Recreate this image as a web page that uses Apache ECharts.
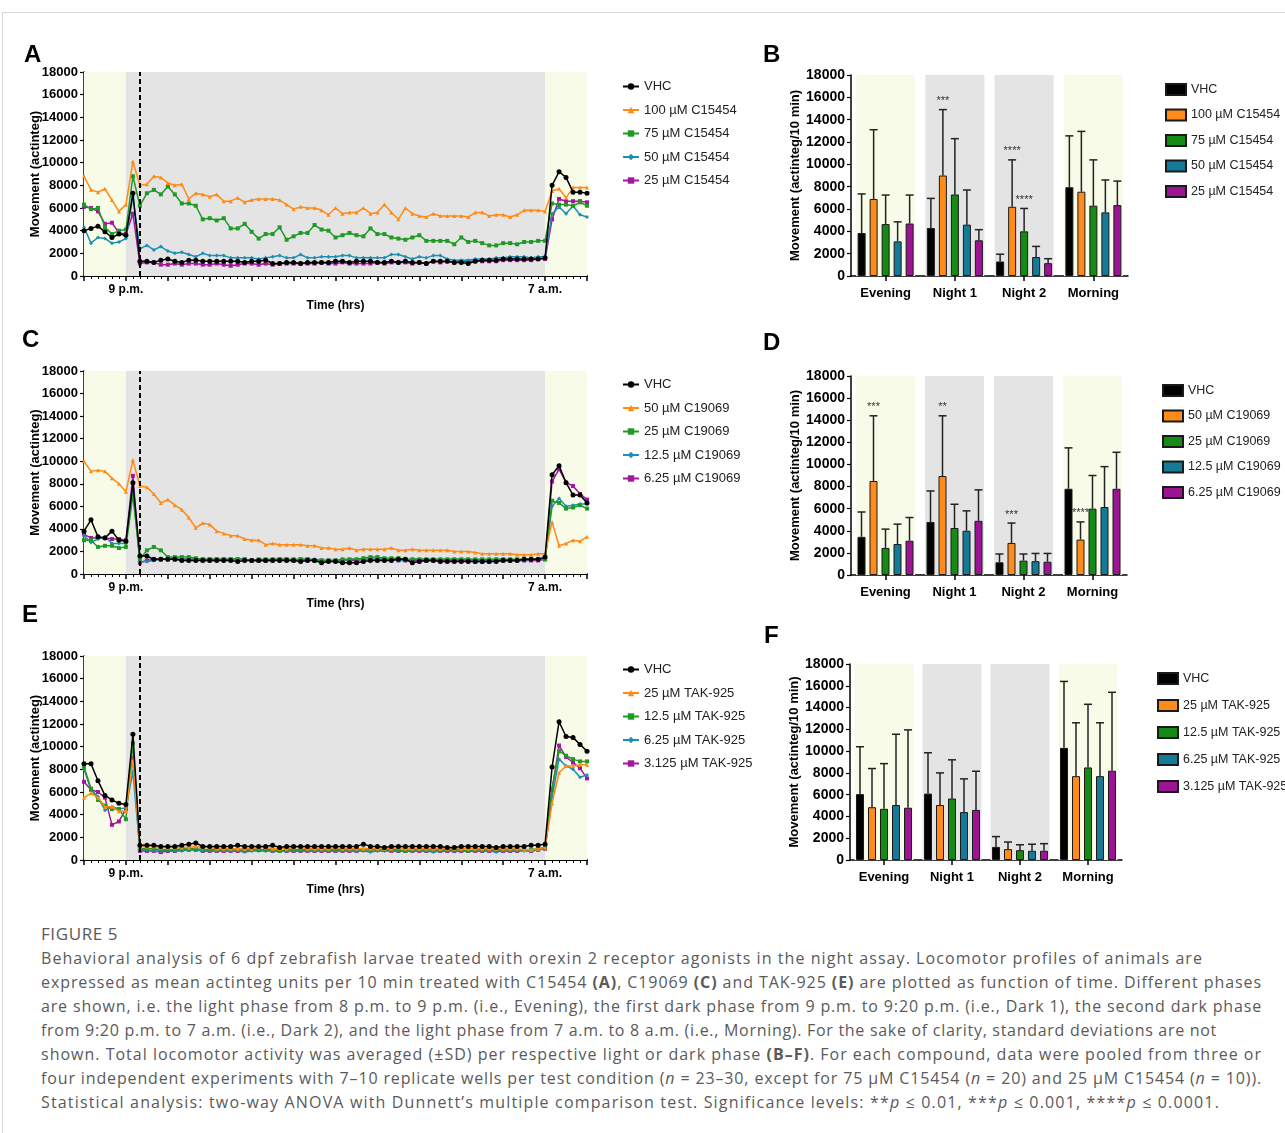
<!DOCTYPE html>
<html><head><meta charset="utf-8">
<script src="https://cdn.jsdelivr.net/npm/echarts@6/dist/echarts.min.js"></script>
<style>
html,body{margin:0;padding:0;background:#fff;width:1285px;height:1133px;overflow:hidden;}
#frame{position:absolute;left:2px;top:12px;width:1283px;height:1121px;border-top:1px solid #d6d6d6;border-left:1px solid #d6d6d6;}
#chart{position:absolute;left:0;top:0;width:1285px;height:910px;}
#caption{position:absolute;left:41px;top:922px;font-family:'Open Sans','Noto Sans',sans-serif;color:#5a5a5a;}
.cap-title{font-size:17px;line-height:24px;letter-spacing:0.6px;white-space:nowrap;}
.cap-line{font-size:16px;line-height:24px;white-space:nowrap;display:block;width:max-content;}
</style></head>
<body>
<div id="frame"></div>
<div id="chart"></div>
<div id="caption">
<div class="cap-title">FIGURE 5</div>
<span class="cap-line">Behavioral analysis of 6 dpf zebrafish larvae treated with orexin 2 receptor agonists in the night assay. Locomotor profiles of animals are</span>
<span class="cap-line">expressed as mean actinteg units per 10 min treated with C15454 <b>(A)</b>, C19069 <b>(C)</b> and TAK-925 <b>(E)</b> are plotted as function of time. Different phases</span>
<span class="cap-line">are shown, i.e. the light phase from 8 p.m. to 9 p.m. (i.e., Evening), the first dark phase from 9 p.m. to 9:20 p.m. (i.e., Dark 1), the second dark phase</span>
<span class="cap-line">from 9:20 p.m. to 7 a.m. (i.e., Dark 2), and the light phase from 7 a.m. to 8 a.m. (i.e., Morning). For the sake of clarity, standard deviations are not</span>
<span class="cap-line">shown. Total locomotor activity was averaged (±SD) per respective light or dark phase <b>(B–F)</b>. For each compound, data were pooled from three or</span>
<span class="cap-line">four independent experiments with 7–10 replicate wells per test condition (<i>n</i> = 23–30, except for 75 μM C15454 (<i>n</i> = 20) and 25 μM C15454 (<i>n</i> = 10)).</span>
<span class="cap-line">Statistical analysis: two-way ANOVA with Dunnett’s multiple comparison test. Significance levels: **<i>p</i> ≤ 0.01, ***<i>p</i> ≤ 0.001, ****<i>p</i> ≤ 0.0001.</span>
</div>
<script>
// ---------------- DATA ----------------
// time axis in 10-min bins from 8 p.m. (0) to 8 a.m. (72)
const timeTickLabels = [[6, '9 p.m.'], [66, '7 a.m.']];
const phaseEdges = [0, 6, 8, 66, 72]; // 8 pm, 9 pm, 9:20 pm, 7 am, 8 am
const phases = ['Evening', 'Night 1', 'Night 2', 'Morning'];
const phaseLight = [true, false, false, true];

const namesA = ['VHC', '100 µM C15454', '75 µM C15454', '50 µM C15454', '25 µM C15454'];
const namesC = ['VHC', '50 µM C19069', '25 µM C19069', '12.5 µM C19069', '6.25 µM C19069'];
const namesE = ['VHC', '25 µM TAK-925', '12.5 µM TAK-925', '6.25 µM TAK-925', '3.125 µM TAK-925'];

// Panel A (C15454)
const A_vhc = [4000,4200,4400,3900,3400,3700,3600,7300,1300,1300,
  1200,1400,1500,1300,1200,1400,1400,1300,1300,1300,
  1300,1300,1300,1200,1300,1300,1400,1100,1100,1200,
  1200,1100,1200,1200,1200,1200,1300,1300,1200,1300,
  1300,1300,1200,1200,1300,1200,1300,1200,1200,1100,
  1300,1300,1300,1200,1200,1100,1300,1400,1400,1400,
  1500,1500,1500,1500,1500,1500,1600,8000,9200,8700,
  7400,7400,7300];
const A_100 = [8800,7600,7400,7700,6700,5700,6300,10100,8000,8100,
  8800,8700,8200,8000,8100,6800,7300,7200,7000,7200,
  6600,6600,6900,6500,6700,6800,6800,6800,6700,6300,
  5900,6100,6000,6000,5800,5400,6000,5500,5600,5600,
  6000,5500,5600,6300,5600,5000,6000,5500,5300,5200,
  5500,5300,5300,5300,5300,5200,5600,5600,5300,5400,
  5400,5200,5400,5800,5800,5800,5700,7500,7700,6900,
  7800,7800,7800];
const A_75 = [6300,5900,6000,4300,3700,4000,4100,8800,6200,7300,
  7600,7200,7900,7200,6400,6400,6200,5000,5100,4900,
  5100,4200,4200,4600,3900,3300,3700,3700,4300,3200,
  3500,3800,3800,4500,4100,4000,3400,3600,3800,3600,
  3500,4200,3700,3700,3400,3300,3200,3400,3600,3100,
  3100,3100,3100,2800,3400,3000,3100,2900,2700,2700,
  2900,2900,2800,3000,3000,3100,3100,6400,6300,6300,
  6200,6500,6200];
const A_50 = [4300,2900,3400,3300,2900,3000,3300,7000,2400,2700,
  2300,2600,2200,2000,2100,1900,1700,2000,1800,1800,
  1800,1600,1600,1600,1600,1500,1600,1700,1800,1600,
  1600,1900,1600,1600,1700,1700,1700,1800,1800,1600,
  1600,1600,1600,1600,1900,1900,1700,1500,1700,1600,
  1800,1800,1500,1400,1400,1400,1500,1500,1500,1600,
  1600,1700,1700,1700,1600,1700,1700,5500,6100,5500,
  6200,5400,5200];
const A_25 = [6100,6000,5700,4600,4700,3800,3700,5500,1100,1200,
  1200,1000,1000,1100,1000,1100,1100,1000,1000,1100,
  1000,900,1000,1100,1100,1000,1100,1000,1100,1100,
  1100,1100,1100,1100,1200,1100,1100,1200,1100,1100,
  1100,1100,1200,1100,1200,1200,1200,1100,1200,1100,
  1300,1200,1300,1200,1300,1300,1300,1300,1300,1300,
  1400,1400,1400,1400,1400,1500,1500,5000,6800,6600,
  6600,6600,6500];

// Panel C (C19069)
const C_vhc = [3800,4800,3300,3200,3800,3000,2900,8100,1600,1600,
  1300,1300,1300,1300,1200,1200,1200,1200,1200,1200,
  1200,1200,1100,1200,1200,1200,1200,1200,1200,1200,
  1200,1100,1200,1200,1000,1100,1100,1000,1000,1000,
  1100,1200,1200,1200,1200,1300,1300,1000,1100,1200,
  1200,1100,1100,1100,1100,1100,1100,1100,1100,1100,
  1200,1200,1200,1300,1300,1300,1500,8800,9600,8100,
  7000,7000,6300];
const C_50 = [10000,9100,9200,9100,8500,8000,7300,10100,7800,7700,
  7100,6300,6600,6100,5700,5000,4100,4500,4400,3800,
  3600,3400,3400,3100,3000,3000,2600,2700,2600,2600,
  2600,2600,2500,2500,2300,2300,2200,2200,2300,2100,
  2200,2200,2200,2200,2300,2100,2100,2200,2100,2100,
  2100,2100,2100,2000,2000,2000,1900,1800,1800,1800,
  1800,1800,1700,1700,1700,1800,1800,4600,2500,2700,
  3000,2900,3300];
const C_25 = [3000,3000,2400,2500,2500,2300,2400,7000,1300,2100,
  2400,2100,1500,1500,1500,1500,1400,1300,1300,1300,
  1300,1300,1300,1300,1200,1300,1300,1300,1300,1300,
  1300,1300,1300,1200,1200,1200,1200,1300,1300,1300,
  1400,1500,1500,1400,1400,1400,1300,1300,1300,1300,
  1300,1300,1300,1300,1300,1300,1300,1300,1300,1300,
  1300,1300,1300,1300,1300,1300,1300,6500,6300,5800,
  5900,6100,5800];
const C_12 = [3400,2800,3100,3300,2700,2700,2700,7500,1100,1100,
  1200,1300,1300,1400,1300,1300,1300,1200,1200,1200,
  1300,1300,1300,1300,1200,1200,1200,1300,1300,1200,
  1200,1200,1300,1300,1200,1200,1200,1200,1300,1300,
  1300,1300,1300,1300,1300,1200,1200,1300,1300,1300,
  1300,1300,1300,1300,1300,1300,1200,1200,1200,1300,
  1300,1200,1200,1200,1300,1300,1300,6000,6700,6000,
  6100,6200,6200];
const C_6 = [3500,3200,3200,3200,3100,3100,3000,8700,1000,1200,
  1300,1300,1300,1300,1300,1300,1300,1300,1300,1300,
  1300,1300,1300,1300,1200,1200,1200,1200,1300,1300,
  1200,1300,1300,1200,1200,1200,1200,1200,1200,1200,
  1300,1300,1300,1300,1300,1200,1200,1200,1200,1200,
  1200,1200,1200,1200,1200,1200,1100,1100,1100,1200,
  1200,1200,1200,1200,1200,1200,1300,8200,9300,8100,
  7800,7100,6600];

// Panel E (TAK-925)
const E_vhc = [8500,8500,7000,5700,5300,5000,4900,11100,1300,1300,
  1300,1200,1200,1200,1300,1400,1500,1200,1200,1200,
  1200,1200,1300,1200,1200,1200,1200,1300,1100,1200,
  1200,1200,1200,1200,1200,1200,1200,1200,1200,1200,
  1400,1200,1200,1100,1200,1200,1200,1200,1200,1200,
  1200,1200,1100,1100,1200,1200,1200,1200,1200,1100,
  1200,1200,1200,1200,1300,1300,1400,8200,12200,10900,
  10800,10200,9600];
const E_25 = [5500,5900,5500,4700,4700,4300,4300,8800,1200,1200,
  1200,1100,1100,1100,1100,1100,1200,1100,1100,1000,
  1000,1000,1000,1000,1000,1100,1100,1000,1000,1000,
  1100,1100,1000,1000,1000,1000,1100,1000,1000,1000,
  1000,1000,1000,1000,1000,1100,1000,1000,1000,1000,
  1000,1000,1000,1000,1000,1000,1000,1000,1000,1000,
  1000,1000,1000,900,900,1000,1100,5000,7700,8300,
  8300,8400,8400];
const E_12 = [8200,6300,5300,4800,4500,4500,3600,10300,1000,1000,
  1000,900,900,900,1000,1000,1000,900,900,900,
  900,900,900,900,900,900,900,900,800,900,
  900,900,900,900,900,900,900,900,900,900,
  900,900,900,900,900,900,800,900,900,900,
  900,900,900,900,900,800,900,900,900,900,
  900,900,900,900,900,1000,1100,6300,9600,9200,
  8900,8700,8700];
const E_6 = [8000,6200,5600,4400,4700,4500,4600,7800,900,900,
  800,800,900,800,800,900,900,800,800,800,
  800,800,800,700,800,800,800,800,800,800,
  800,800,800,800,800,800,800,800,800,800,
  800,700,800,800,800,800,800,800,800,800,
  700,800,800,800,800,800,800,800,800,700,
  800,800,800,800,800,900,1000,5500,8900,8300,
  8000,7300,7500];
const E_3 = [6900,6200,6000,5500,3100,3400,4500,9000,800,800,
  800,700,800,800,900,900,900,800,800,800,
  800,800,800,800,900,900,900,800,800,800,
  800,800,800,800,800,800,800,800,800,800,
  900,900,900,900,800,800,800,800,800,800,
  800,800,800,800,800,800,800,800,800,800,
  800,800,800,900,800,900,1000,6200,10100,9100,
  8600,8100,7200];

// Panel B (C15454) means and upper SD ends
const B_vhc_mean = [3850, 4300, 1300, 7950], B_vhc_upper = [7350, 6950, 1950, 12550];
const B_100_mean = [6900, 9000, 6200, 7550], B_100_upper = [13100, 14900, 10400, 12950];
const B_75_mean = [4650, 7300, 4000, 6300], B_75_upper = [7250, 12300, 6050, 10400];
const B_50_mean = [3100, 4600, 1700, 5700], B_50_upper = [4850, 7700, 2650, 8600];
const B_25_mean = [4700, 3200, 1150, 6350], B_25_upper = [7250, 4150, 1550, 8500];
const B_100_sig = ['', '***', '****', ''], B_75_sig = ['', '', '****', ''];

// Panel D (C19069)
const D_vhc_mean = [3450, 4800, 1150, 7800], D_vhc_upper = [5700, 7600, 1900, 11500];
const D_50_mean = [8500, 8950, 2900, 3200], D_50_upper = [14400, 14400, 4700, 4800];
const D_25_mean = [2450, 4250, 1300, 6000], D_25_upper = [4150, 6400, 1900, 9000];
const D_12_mean = [2800, 4000, 1250, 6150], D_12_upper = [4600, 5800, 1950, 9800];
const D_6_mean = [3100, 4900, 1200, 7800], D_6_upper = [5200, 7700, 1950, 11100];
const D_50_sig = ['***', '**', '***', '****'];

// Panel F (TAK-925)
const F_vhc_mean = [6050, 6100, 1200, 10300], F_vhc_upper = [10400, 9850, 2150, 16400];
const F_25_mean = [4850, 5050, 1000, 7700], F_25_upper = [8400, 8000, 1650, 12600];
const F_12_mean = [4700, 5650, 900, 8500], F_12_upper = [8850, 9200, 1400, 14300];
const F_6_mean = [5050, 4400, 850, 7700], F_6_upper = [11550, 7450, 1450, 12600];
const F_3_mean = [4800, 4600, 850, 8200], F_3_upper = [11950, 8150, 1500, 15400];

const noSig = ['', '', '', ''];

// ---------------- STYLE ----------------
const FONT = "'Liberation Sans', Arial, sans-serif";
const lineColors = ['#000000', '#ff8a14', '#1f9a26', '#1c8fb2', '#a3179e'];
const barColors = ['#000000', '#ff8c1a', '#158a15', '#147a98', '#9b1493'];
const lineSymbols = ['circle', 'triangle', 'rect', 'diamond', 'rect'];
const LIGHT = '#f8fbe7', DARK = '#e4e4e4';

const option = {
  animation: false,
  textStyle: { fontFamily: FONT },
  grid: [], xAxis: [], yAxis: [], series: [], legend: [], graphic: []
};
const sep = '::';
const strip = n => n.split(sep)[1];
const plain = v => String(v);

function addLinePanel(prefix, box, names, seriesData, legendBox) {
  const gi = option.grid.length;
  option.grid.push({ left: box.left, top: box.top, width: box.width, height: box.height, outerBoundsMode: 'none', containLabel: false });
  option.xAxis.push({
    gridIndex: gi, type: 'value', min: phaseEdges[0], max: phaseEdges[4], interval: 6,
    axisLine: { show: true, onZero: false, lineStyle: { color: '#000', width: 2 } },
    axisTick: { show: true, length: 5, lineStyle: { color: '#000', width: 1.5 } },
    minorTick: { show: true, splitNumber: 6, length: 3, lineStyle: { color: '#000', width: 1 } },
    splitLine: { show: false }, minorSplitLine: { show: false },
    axisLabel: {
      margin: 8, color: '#000', fontWeight: 'bold', fontSize: 12, fontFamily: FONT,
      formatter: v => { const t = timeTickLabels.find(d => d[0] === v); return t ? t[1] : ''; }
    },
    name: 'Time (hrs)', nameLocation: 'middle', nameGap: 24, nameMoveOverlap: false,
    nameTextStyle: { color: '#000', fontWeight: 'bold', fontSize: 12, fontFamily: FONT }
  });
  option.yAxis.push({
    gridIndex: gi, type: 'value', min: 0, max: 18000, interval: 2000,
    axisLine: { show: true, lineStyle: { color: '#000', width: 1.5 } },
    axisTick: { show: true, length: 4, lineStyle: { color: '#000', width: 1.2 } },
    splitLine: { show: false },
    axisLabel: { margin: 6, color: '#000', fontWeight: 'bold', fontSize: 13, fontFamily: FONT, formatter: plain },
    name: 'Movement (actinteg)', nameLocation: 'middle', nameGap: 42, nameMoveOverlap: false,
    nameTextStyle: { color: '#000', fontWeight: 'bold', fontSize: 13, fontFamily: FONT }
  });
  const keys = names.map(n => prefix + sep + n);
  const order = [4, 3, 2, 1, 0];
  order.forEach(k => {
    const s = {
      type: 'line', name: keys[k], xAxisIndex: gi, yAxisIndex: gi,
      data: seriesData[k].map((v, i) => [i, v]),
      symbol: lineSymbols[k], symbolSize: k === 0 ? 5 : 4, showSymbol: true,
      lineStyle: { color: lineColors[k], width: 1.5 },
      itemStyle: { color: lineColors[k] },
      z: 2 + (4 - k) * 0.1, silent: true
    };
    if (k === 0) {
      s.markArea = {
        silent: true,
        data: [
          [{ xAxis: phaseEdges[0], itemStyle: { color: LIGHT } }, { xAxis: phaseEdges[1] }],
          [{ xAxis: phaseEdges[1], itemStyle: { color: DARK } }, { xAxis: phaseEdges[3] }],
          [{ xAxis: phaseEdges[3], itemStyle: { color: LIGHT } }, { xAxis: phaseEdges[4] }]
        ]
      };
      s.markLine = {
        silent: true, symbol: ['none', 'none'], label: { show: false },
        lineStyle: { color: '#000', width: 2, type: [5, 3] },
        data: [{ xAxis: phaseEdges[2] }]
      };
    }
    option.series.push(s);
  });
  option.legend.push({
    orient: 'vertical', left: legendBox.left, top: legendBox.top,
    itemWidth: 16, itemHeight: 8, itemGap: legendBox.gap,
    data: keys, formatter: strip, selectedMode: false,
    textStyle: { fontSize: 13, color: '#222', fontFamily: FONT }
  });
}

function addBarPanel(prefix, box, names, means, uppers, sigs, legendBox) {
  const gi = option.grid.length;
  option.grid.push({ left: box.left, top: box.top, width: box.width, height: box.height, outerBoundsMode: 'none', containLabel: false });
  const xi = option.xAxis.length;
  option.xAxis.push({
    gridIndex: gi, type: 'category', data: phases,
    axisLine: { show: true, lineStyle: { color: '#000', width: 1.5 } },
    axisTick: { show: true, alignWithLabel: true, length: 5, lineStyle: { color: '#000', width: 1.5 } },
    axisLabel: { margin: 11, color: '#000', fontWeight: 'bold', fontSize: 13, fontFamily: FONT },
    splitLine: { show: false }
  });
  option.xAxis.push({ gridIndex: gi, type: 'category', data: phases, show: false });
  const yi = option.yAxis.length;
  option.yAxis.push({
    gridIndex: gi, type: 'value', min: 0, max: 18000, interval: 2000,
    axisLine: { show: true, lineStyle: { color: '#000', width: 1.5 } },
    axisTick: { show: true, length: 4, lineStyle: { color: '#000', width: 1.2 } },
    splitLine: { show: false },
    axisLabel: { margin: 6, color: '#000', fontWeight: 'bold', fontSize: 14, fontFamily: FONT, formatter: plain },
    name: 'Movement (actinteg/10 min)', nameLocation: 'middle', nameGap: 49, nameMoveOverlap: false,
    nameTextStyle: { color: '#000', fontWeight: 'bold', fontSize: 13, fontFamily: FONT }
  });
  // phase background bands
  option.series.push({
    type: 'bar', name: prefix + sep + 'band', xAxisIndex: xi + 1, yAxisIndex: yi,
    data: phases.map((p, i) => ({ value: 18000, itemStyle: { color: phaseLight[i] ? LIGHT : DARK } })),
    barWidth: 59, silent: true, z: 0
  });
  const keys = names.map(n => prefix + sep + n);
  const BW = 8, GAP = 4;
  keys.forEach((key, k) => {
    option.series.push({
      type: 'bar', name: key, xAxisIndex: xi, yAxisIndex: yi,
      data: means[k], barWidth: BW, barGap: '50%', silent: true, z: 3,
      itemStyle: { color: barColors[k], borderColor: '#1a1a1a', borderWidth: 1 }
    });
    const off = (k - 2) * (BW + GAP);
    const sig = sigs[k];
    option.series.push({
      type: 'custom', name: prefix + sep + 'err' + k, xAxisIndex: xi, yAxisIndex: yi, z: 4, silent: true,
      data: means[k].map((m, i) => [i, m, uppers[k][i]]),
      renderItem: (params, api) => {
        const i = api.value(0);
        const p0 = api.coord([i, api.value(1)]);
        const p1 = api.coord([i, api.value(2)]);
        const x = p0[0] + off;
        const st = { stroke: '#222', lineWidth: 1.5 };
        const children = [
          { type: 'line', shape: { x1: x, y1: p0[1], x2: x, y2: p1[1] }, style: st },
          { type: 'line', shape: { x1: x - 4, y1: p1[1], x2: x + 4, y2: p1[1] }, style: st }
        ];
        const lab = sig[params.dataIndex];
        if (lab) children.push({ type: 'text', x: x, y: p1[1] - 3,
          style: { text: lab, fill: '#333', font: '11px ' + FONT, align: 'center', verticalAlign: 'bottom' } });
        return { type: 'group', children };
      }
    });
  });
  option.legend.push({
    orient: 'vertical', left: legendBox.left, top: legendBox.top,
    itemWidth: 20, itemHeight: 11, itemGap: legendBox.gap, icon: 'rect',
    data: keys, formatter: strip, selectedMode: false,
    textStyle: { fontSize: 12.5, color: '#222', fontFamily: FONT }
  });
}

addLinePanel('A', { left: 84, top: 72, width: 503, height: 204 }, namesA,
  [A_vhc, A_100, A_75, A_50, A_25], { left: 617, top: 75, gap: 10.5 });
addLinePanel('C', { left: 84, top: 371, width: 503, height: 203 }, namesC,
  [C_vhc, C_50, C_25, C_12, C_6], { left: 617, top: 373, gap: 10.5 });
addLinePanel('E', { left: 84, top: 656, width: 503, height: 204 }, namesE,
  [E_vhc, E_25, E_12, E_6, E_3], { left: 617, top: 658, gap: 10.5 });

addBarPanel('B', { left: 851, top: 75, width: 277, height: 201 }, namesA,
  [B_vhc_mean, B_100_mean, B_75_mean, B_50_mean, B_25_mean],
  [B_vhc_upper, B_100_upper, B_75_upper, B_50_upper, B_25_upper],
  [noSig, B_100_sig, B_75_sig, noSig, noSig], { left: 1160, top: 78, gap: 12.5 });
addBarPanel('D', { left: 851, top: 376, width: 276, height: 199 }, namesC,
  [D_vhc_mean, D_50_mean, D_25_mean, D_12_mean, D_6_mean],
  [D_vhc_upper, D_50_upper, D_25_upper, D_12_upper, D_6_upper],
  [noSig, D_50_sig, noSig, noSig, noSig], { left: 1157, top: 379, gap: 12.5 });
addBarPanel('F', { left: 850, top: 664, width: 272, height: 196 }, namesE,
  [F_vhc_mean, F_25_mean, F_12_mean, F_6_mean, F_3_mean],
  [F_vhc_upper, F_25_upper, F_12_upper, F_6_upper, F_3_upper],
  [noSig, noSig, noSig, noSig, noSig], { left: 1152, top: 667, gap: 14 });

const panelLabels = [['A', 24, 43], ['B', 763, 43], ['C', 22, 328], ['D', 763, 331], ['E', 22, 603], ['F', 764, 624]];
panelLabels.forEach(p => option.graphic.push({
  type: 'text', left: p[1], top: p[2],
  style: { text: p[0], font: 'bold 24px ' + FONT, fill: '#000' }
}));

const chart = echarts.init(document.getElementById('chart'), null, { renderer: 'canvas' });
chart.setOption(option);

// fit caption lines to the reference line lengths
const capRight = [1203, 1262, 1262, 1217, 1262, 1262, 1220];
document.querySelectorAll('.cap-line').forEach((el, i) => {
  const w = el.getBoundingClientRect().width;
  const target = capRight[i] - 41;
  const n = el.textContent.length;
  el.style.letterSpacing = ((target - w) / n) + 'px';
});
</script>
</body></html>
